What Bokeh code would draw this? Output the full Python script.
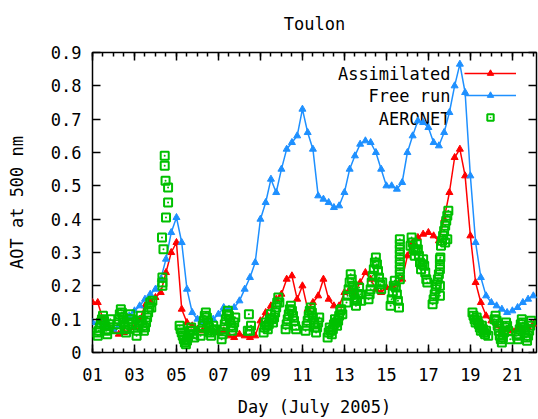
import numpy as np
from bokeh.plotting import figure
from bokeh.models import (Range1d, FixedTicker, LinearAxis, Legend, LegendItem, Label)
from bokeh.embed import file_html
from bokeh.resources import INLINE

# ---------------- data ----------------
# model output every 6 hours, day 1.00 .. 22.00
days = np.arange(1.0, 22.001, 0.25)

assimilated = [
    0.15, 0.15, 0.10, 0.08,      # 1
    0.065, 0.055, 0.06, 0.065,   # 2
    0.075, 0.10, 0.14, 0.155,    # 3
    0.165, 0.18, 0.24, 0.30,     # 4
    0.33, 0.13, 0.09, 0.08,      # 5
    0.07, 0.065, 0.065, 0.065,   # 6
    0.06, 0.065, 0.05, 0.045,    # 7
    0.055, 0.05, 0.045, 0.05,    # 8
    0.095, 0.12, 0.14, 0.16,     # 9
    0.175, 0.22, 0.23, 0.16,     # 10
    0.20, 0.13, 0.15, 0.17,      # 11
    0.22, 0.16, 0.14, 0.14,      # 12
    0.18, 0.19, 0.18, 0.21,      # 13
    0.24, 0.22, 0.19, 0.18,      # 14
    0.195, 0.20, 0.205, 0.22,    # 15
    0.29, 0.33, 0.345, 0.355,    # 16
    0.36, 0.35, 0.335, 0.40,     # 17
    0.48, 0.585, 0.61, 0.53,     # 18
    0.35, 0.21, 0.15, 0.11,      # 19
    0.095, 0.08, 0.065, 0.07,    # 20
    0.065, 0.075, 0.07, 0.075,   # 21
    0.085,                       # 22
]

free_run = [
    0.09, 0.09, 0.085, 0.075,    # 1
    0.07, 0.08, 0.095, 0.11,     # 2
    0.125, 0.14, 0.16, 0.175,    # 3
    0.19, 0.22, 0.28, 0.36,      # 4
    0.405, 0.33, 0.19, 0.12,     # 5
    0.10, 0.09, 0.095, 0.10,     # 6
    0.115, 0.135, 0.13, 0.135,   # 7
    0.155, 0.19, 0.225, 0.27,    # 8
    0.40, 0.45, 0.52, 0.48,      # 9
    0.55, 0.61, 0.63, 0.65,      # 10
    0.73, 0.66, 0.61, 0.47,      # 11
    0.46, 0.45, 0.435, 0.44,     # 12
    0.48, 0.55, 0.59, 0.625,     # 13
    0.635, 0.63, 0.60, 0.55,     # 14
    0.50, 0.50, 0.49, 0.51,      # 15
    0.60, 0.65, 0.695, 0.69,     # 16
    0.675, 0.63, 0.62, 0.66,     # 17
    0.72, 0.80, 0.865, 0.78,     # 18
    0.53, 0.33, 0.225, 0.17,     # 19
    0.15, 0.14, 0.13, 0.12,      # 20
    0.125, 0.135, 0.15, 0.16,    # 21
    0.17,                        # 22
]

aeronet_day = [
    1.20, 1.25, 1.30, 1.35, 1.40, 1.45, 1.50, 1.55, 1.60, 1.65, 1.70, 1.75, 1.80, 1.85,
    2.15, 2.20, 2.25, 2.30, 2.35, 2.40, 2.45, 2.50, 2.55, 2.60, 2.65, 2.70, 2.75, 2.80, 2.85, 2.90,
    3.10, 3.15, 3.20, 3.25, 3.30, 3.35, 3.40, 3.45, 3.50, 3.55, 3.60, 3.65, 3.70, 3.75, 3.80, 3.85,
    4.33, 4.33, 4.33, 4.38, 4.31, 4.50, 4.60, 4.60, 4.48, 4.44, 4.44,
    5.15, 5.20, 5.25, 5.30, 5.35, 5.40, 5.45, 5.50, 5.55, 5.60, 5.65, 5.70, 5.75, 5.80, 5.85,
    6.15, 6.20, 6.25, 6.30, 6.35, 6.40, 6.45, 6.50, 6.55, 6.60, 6.65, 6.70, 6.75, 6.80,
    7.15, 7.20, 7.25, 7.30, 7.35, 7.40, 7.45, 7.50, 7.55, 7.60, 7.65, 7.70, 7.75, 7.80,
    8.40, 8.45, 8.50, 8.55,
    9.15, 9.20, 9.25, 9.30, 9.35, 9.40, 9.45, 9.50, 9.55, 9.60, 9.65, 9.70, 9.75, 9.80, 9.85, 9.90,
    10.20, 10.25, 10.30, 10.35, 10.40, 10.45, 10.50, 10.55, 10.60, 10.65, 10.70,
    11.15, 11.20, 11.25, 11.30, 11.35, 11.40, 11.45, 11.50, 11.55, 11.60, 11.65, 11.70, 11.75, 11.80,
    12.20, 12.25, 12.30, 12.35, 12.40, 12.45, 12.50, 12.55, 12.60, 12.65, 12.70, 12.75, 12.80, 12.85, 12.90,
    13.10, 13.15, 13.20, 13.25, 13.30, 13.35, 13.40, 13.45, 13.50, 13.55, 13.60, 13.65, 13.70, 13.75, 13.80,
    14.15, 14.20, 14.25, 14.30, 14.35, 14.40, 14.45, 14.50, 14.55, 14.60, 14.65, 14.70, 14.75, 14.80,
    15.20, 15.25, 15.30, 15.35, 15.40, 15.45, 15.50, 15.55, 15.60,
    15.64, 15.64, 15.64, 15.64, 15.64, 15.64, 15.64, 15.64, 15.64,
    16.15, 16.20, 16.25, 16.30, 16.35, 16.40, 16.45, 16.50, 16.55, 16.60, 16.65, 16.70, 16.75, 16.80, 16.85, 16.90, 16.95,
    17.20, 17.25, 17.30, 17.35, 17.40, 17.45, 17.50, 17.55, 17.55, 17.55, 17.55, 17.55, 17.57,
    17.60, 17.65, 17.70, 17.75, 17.80, 17.85, 17.90, 17.95, 17.90, 17.80,
    19.10, 19.15, 19.20, 19.25, 19.30, 19.35, 19.40, 19.45, 19.50, 19.55, 19.60, 19.65, 19.70, 19.75, 19.85,
    20.15, 20.20, 20.25, 20.30, 20.35, 20.40, 20.45, 20.50, 20.55, 20.60, 20.65, 20.70, 20.75, 20.80, 20.90,
    21.20, 21.25, 21.30, 21.35, 21.40, 21.45, 21.50, 21.55, 21.60, 21.65, 21.70, 21.75, 21.80, 21.85, 21.90,
]

aeronet_aot = [
    0.06, 0.05, 0.065, 0.075, 0.09, 0.10, 0.11, 0.095, 0.08, 0.065, 0.055, 0.07, 0.085, 0.10,
    0.07, 0.085, 0.10, 0.115, 0.13, 0.12, 0.105, 0.09, 0.075, 0.06, 0.07, 0.085, 0.10, 0.115, 0.10, 0.085,
    0.05, 0.065, 0.08, 0.095, 0.11, 0.095, 0.08, 0.065, 0.075, 0.09, 0.105, 0.12, 0.135, 0.15, 0.135, 0.155,
    0.20, 0.21, 0.225, 0.31, 0.345, 0.405, 0.45, 0.495, 0.515, 0.56, 0.59,
    0.08, 0.07, 0.06, 0.05, 0.04, 0.03, 0.025, 0.035, 0.045, 0.055, 0.065, 0.075, 0.065, 0.055, 0.045,
    0.05, 0.065, 0.08, 0.095, 0.11, 0.12, 0.105, 0.09, 0.075, 0.06, 0.05, 0.065, 0.08, 0.07,
    0.04, 0.055, 0.07, 0.085, 0.10, 0.115, 0.125, 0.11, 0.095, 0.08, 0.065, 0.075, 0.09, 0.105,
    0.065, 0.115, 0.065, 0.08,
    0.06, 0.075, 0.09, 0.08, 0.07, 0.085, 0.10, 0.115, 0.10, 0.09, 0.105, 0.12, 0.135, 0.15, 0.165, 0.15,
    0.07, 0.085, 0.10, 0.115, 0.13, 0.14, 0.125, 0.11, 0.095, 0.08, 0.07,
    0.065, 0.08, 0.095, 0.11, 0.125, 0.135, 0.12, 0.105, 0.09, 0.075, 0.06, 0.075, 0.09, 0.105,
    0.045, 0.06, 0.075, 0.065, 0.055, 0.07, 0.085, 0.10, 0.09, 0.08, 0.095, 0.11, 0.125, 0.13, 0.115,
    0.15, 0.17, 0.19, 0.21, 0.235, 0.22, 0.20, 0.18, 0.16, 0.14, 0.155, 0.175, 0.195, 0.175, 0.155,
    0.16, 0.175, 0.19, 0.21, 0.23, 0.25, 0.27, 0.285, 0.265, 0.245, 0.225, 0.205, 0.19, 0.21,
    0.14, 0.16, 0.18, 0.20, 0.215, 0.195, 0.175, 0.155, 0.135,
    0.22, 0.235, 0.25, 0.265, 0.28, 0.295, 0.31, 0.325, 0.34,
    0.32, 0.345, 0.33, 0.31, 0.29, 0.305, 0.325, 0.31, 0.29, 0.27, 0.25, 0.265, 0.28, 0.26, 0.24, 0.22, 0.21,
    0.145, 0.16, 0.175, 0.19, 0.205, 0.22, 0.235, 0.25, 0.265, 0.28, 0.17, 0.20, 0.285,
    0.32, 0.335, 0.35, 0.365, 0.38, 0.395, 0.41, 0.425, 0.34, 0.33,
    0.12, 0.11, 0.10, 0.09, 0.105, 0.095, 0.085, 0.075, 0.065, 0.08, 0.07, 0.06, 0.055, 0.065, 0.05,
    0.10, 0.11, 0.095, 0.08, 0.065, 0.05, 0.04, 0.03, 0.045, 0.06, 0.075, 0.09, 0.08, 0.065, 0.04,
    0.05, 0.04, 0.055, 0.07, 0.085, 0.10, 0.09, 0.075, 0.06, 0.045, 0.035, 0.05, 0.065, 0.08, 0.095,
]

x_ticks = [1, 3, 5, 7, 9, 11, 13, 15, 17, 19, 21]
x_tick_labels = ["01", "03", "05", "07", "09", "11", "13", "15", "17", "19", "21"]
y_ticks = [0, 0.1, 0.2, 0.3, 0.4, 0.5, 0.6, 0.7, 0.8, 0.9]
y_tick_labels = ["0", "0.1", "0.2", "0.3", "0.4", "0.5", "0.6", "0.7", "0.8", "0.9"]
series_names = ["Assimilated", "Free run", "AERONET"]
title_text = "Toulon"

# ---------------- style ----------------
FONT = "DejaVu Sans Mono"
FS = "17px"
RED = "#ff0000"
BLUE = "#1e90ff"
GREEN = "#00c000"

p = figure(width=538, height=419, output_backend="svg", toolbar_location=None,
           x_range=Range1d(1, 22.15), y_range=Range1d(0, 0.9),
           min_border_left=92, min_border_right=2, min_border_top=52, min_border_bottom=67,
           background_fill_color="white", border_fill_color="white")
p.grid.visible = False
p.outline_line_color = "black"
p.outline_line_width = 1.5

minor_x = list(np.arange(1, 22.2, 0.5))
x_ticker = FixedTicker(ticks=x_ticks, minor_ticks=minor_x)
y_ticker = FixedTicker(ticks=y_ticks, minor_ticks=[])

def style_axis(ax, ticker, labels, ticks, show_labels=True):
    ax.ticker = ticker
    ax.axis_line_color = None
    ax.major_tick_in = 8
    ax.major_tick_out = 0
    ax.minor_tick_in = 4
    ax.minor_tick_out = 0
    ax.major_tick_line_color = "black"
    ax.minor_tick_line_color = "black"
    ax.major_tick_line_width = 1.5
    ax.minor_tick_line_width = 1.5
    ax.major_label_overrides = {t: l for t, l in zip(ticks, labels)}
    ax.major_label_text_font = FONT
    if show_labels:
        ax.major_label_text_font_size = FS
        ax.major_label_text_color = "black"
    else:
        ax.major_label_text_font_size = "1px"
        ax.major_label_text_color = None
    ax.axis_label_text_font = FONT
    ax.axis_label_text_font_size = FS
    ax.axis_label_text_font_style = "normal"
    ax.axis_label_text_color = "black"

xa = p.xaxis[0]
style_axis(xa, x_ticker, x_tick_labels, x_ticks)
xa.axis_label = "Day (July 2005)"
xa.major_label_standoff = 15
xa.axis_label_standoff = 13

ya = p.yaxis[0]
style_axis(ya, y_ticker, y_tick_labels, y_ticks)
ya.axis_label = "AOT at 500 nm"
ya.major_label_standoff = 11
ya.axis_label_standoff = 21

# mirrored ticks on top; the chart title sits above them as this axis' label
top = LinearAxis()
style_axis(top, x_ticker, x_tick_labels, x_ticks, show_labels=False)
top.major_label_standoff = 0
top.axis_label = title_text
top.axis_label_standoff = 19
p.add_layout(top, "above")

right = LinearAxis()
style_axis(right, y_ticker, y_tick_labels, y_ticks, show_labels=False)
right.major_label_standoff = 0
right.minor_tick_line_color = None
p.add_layout(right, "right")

# ---------------- glyphs ----------------
l_red = p.line(days, assimilated, line_color=RED, line_width=1.5)
m_red = p.scatter(days, assimilated, marker="triangle", size=7,
                  line_color=RED, fill_color=RED)
l_blue = p.line(days, free_run, line_color=BLUE, line_width=1.5)
m_blue = p.scatter(days, free_run, marker="triangle", size=7,
                   line_color=BLUE, fill_color=BLUE)
m_green = p.scatter(aeronet_day, aeronet_aot, marker="square_dot", size=8,
                    line_color=GREEN, fill_color=None, line_width=2)

legend = Legend(items=[
    LegendItem(label=" ", renderers=[l_red, m_red]),
    LegendItem(label=" ", renderers=[l_blue, m_blue]),
    LegendItem(label=" ", renderers=[m_green]),
], location=(372, 227), glyph_width=52, glyph_height=16, spacing=6,
   padding=0, margin=0, label_standoff=0, label_width=0, label_height=1,
   label_text_font_size="1px", label_text_color=None,
   border_line_color=None, background_fill_alpha=0)
p.add_layout(legend)

row_y = [279, 257, 234]
for name, yy in zip(series_names, row_y):
    p.add_layout(Label(x=358, y=yy, x_units="screen", y_units="screen", text=name,
                       text_align="right", text_baseline="middle",
                       text_font=FONT, text_font_size=FS, text_color="black",
                       level="underlay"))

open("out.html", "w").write(file_html(p, INLINE))
